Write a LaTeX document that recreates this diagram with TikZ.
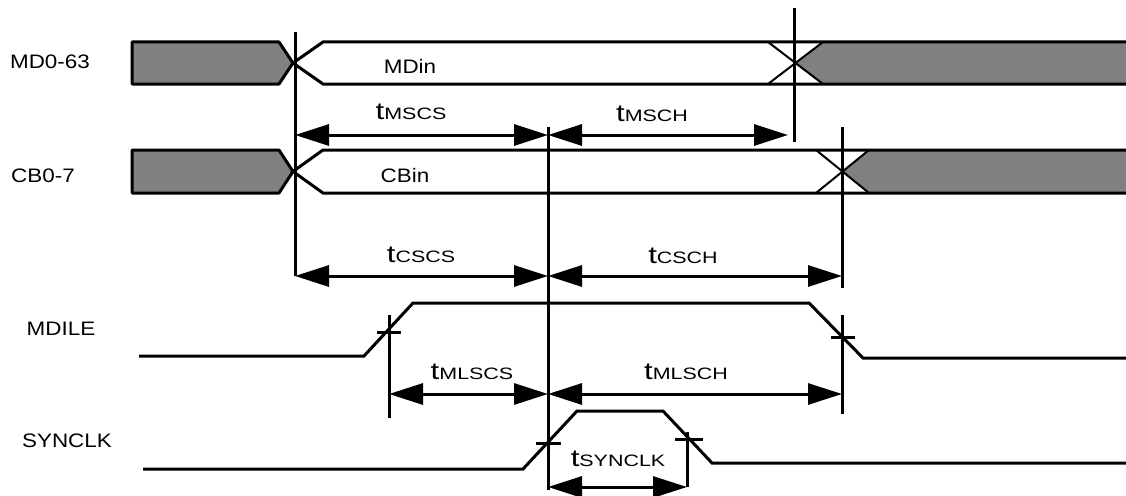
\documentclass[tikz,border=0pt]{standalone}
\usepackage{fontspec}
\setmainfont{Liberation Sans}
\newfontfamily\labfont[FakeStretch=1.15]{Liberation Sans}
\newfontfamily\tfont[FakeStretch=1.3]{Liberation Sans}
\newcommand\tlab[1]{{\tfont\fontsize{24}{24}\selectfont t}{\tfont\fontsize{16.5}{16.5}\selectfont #1}}
\usetikzlibrary{arrows.meta}
\definecolor{busfill}{RGB}{128,128,128}
\begin{document}
\begin{tikzpicture}[x=1pt,y=-1pt,
  sig/.style={line width=3pt, line join=miter},
  crossln/.style={line width=2pt},
  busgray/.style={fill=busfill, draw=black, line width=3pt, line join=round},
  dim/.style={line width=3pt, {Triangle[length=34pt,width=21pt]}-{Triangle[length=34pt,width=21pt]}},
  lbl/.style={font=\labfont\fontsize{19.5}{19.5}\selectfont, inner sep=0pt},
  tl/.style={inner sep=0pt}]
\useasboundingbox (0,0) rectangle (1126,495);

% ---------- signal names ----------
\node[lbl] (nMD) at (50,61.5) {MD0-63};
\node[lbl] (nCB) at (43,175.5) {CB0-7};
\node[lbl] (nMDILE) at (61,329) {MDILE};
\node[lbl] (nSYN) at (67,441) {SYNCLK};

% ---------- MD bus ----------
\fill[busfill] (794,63) -- (823,42) -- (1126,42) -- (1126,84) -- (823,84) -- cycle;
\draw[busgray] (132,42) -- (279,42) -- (293,63) -- (279,84) -- (132,84) -- cycle;
\draw[crossln] (768,42) -- (823,84) (768,84) -- (823,42);
\draw[sig] (1126,42) -- (323,42) -- (293,63) -- (323,84) -- (1126,84);
\node[lbl] (nMDin) at (410,66) {MDin};

% ---------- CB bus ----------
\fill[busfill] (842,171.5) -- (869,150) -- (1126,150) -- (1126,193) -- (869,193) -- cycle;
\draw[busgray] (132,150) -- (279,150) -- (293,171.5) -- (279,193) -- (132,193) -- cycle;
\draw[crossln] (816,150) -- (869,193) (816,193) -- (869,150);
\draw[sig] (1126,150) -- (323,150) -- (293,171.5) -- (323,193) -- (1126,193);
\node[lbl] (nCBin) at (405,176) {CBin};

% ---------- reference lines ----------
\coordinate (v1t) at (295,32);  \coordinate (v1b) at (295,276);
\coordinate (v2t) at (548,127); \coordinate (v2b) at (548,490);
\coordinate (v3t) at (794,8);   \coordinate (v3b) at (794,142);
\coordinate (v4t) at (842,127); \coordinate (v4b) at (842,288);
\draw[sig] (v1t) -- (v1b);
\draw[sig] (v2t) -- (v2b);
\draw[sig] (v3t) -- (v3b);
\draw[sig] (v4t) -- (v4b);

% ---------- MDILE ----------
\draw[sig] (139,356) -- (364,356) -- (413,303) -- (809,303) -- (863,358) -- (1126,358);
\coordinate (t1t) at (389,315); \coordinate (t1b) at (389,418);
\draw[sig] (t1t) -- (t1b) (377,332) -- (401,332);
\coordinate (t2t) at (842,315); \coordinate (t2b) at (842,414);
\draw[sig] (t2t) -- (t2b) (831,337) -- (855,337);

% ---------- SYNCLK ----------
\draw[sig] (143,469) -- (523,469) -- (577,411) -- (663,411) -- (712,463) -- (1126,463);
\draw[sig] (536,443) -- (561,443);
\coordinate (t3t) at (687,432); \coordinate (t3b) at (687,487);
\draw[sig] (t3t) -- (t3b) (675,439) -- (703,439);

% ---------- dimensions ----------
\coordinate (a1) at (295,135); \coordinate (a2) at (548,135); \coordinate (a3) at (788,135);
\draw[dim] (a1) -- (a2);
\draw[dim] (a2) -- (a3);
\node[tl] (lMSCS) at (411,112) {\tlab{MSCS}};
\node[tl] (lMSCH) at (652,114) {\tlab{MSCH}};

\coordinate (b1) at (295,276); \coordinate (b2) at (548,276); \coordinate (b3) at (842,276);
\draw[dim] (b1) -- (b2);
\draw[dim] (b2) -- (b3);
\node[tl] (lCSCS) at (421,255) {\tlab{CSCS}};
\node[tl] (lCSCH) at (683,256) {\tlab{CSCH}};

\coordinate (c1) at (389,394); \coordinate (c2) at (548,394); \coordinate (c3) at (842,394);
\draw[dim] (c1) -- (c2);
\draw[dim] (c2) -- (c3);
\node[tl] (lMLSCS) at (472,372) {\tlab{MLSCS}};
\node[tl] (lMLSCH) at (686,372) {\tlab{MLSCH}};

\coordinate (d1) at (548,487); \coordinate (d2) at (687,487);
\draw[dim] (d1) -- (d2);
\node[tl] (lSYN) at (618,459) {\tlab{SYNCLK}};
\end{tikzpicture}
\end{document}
